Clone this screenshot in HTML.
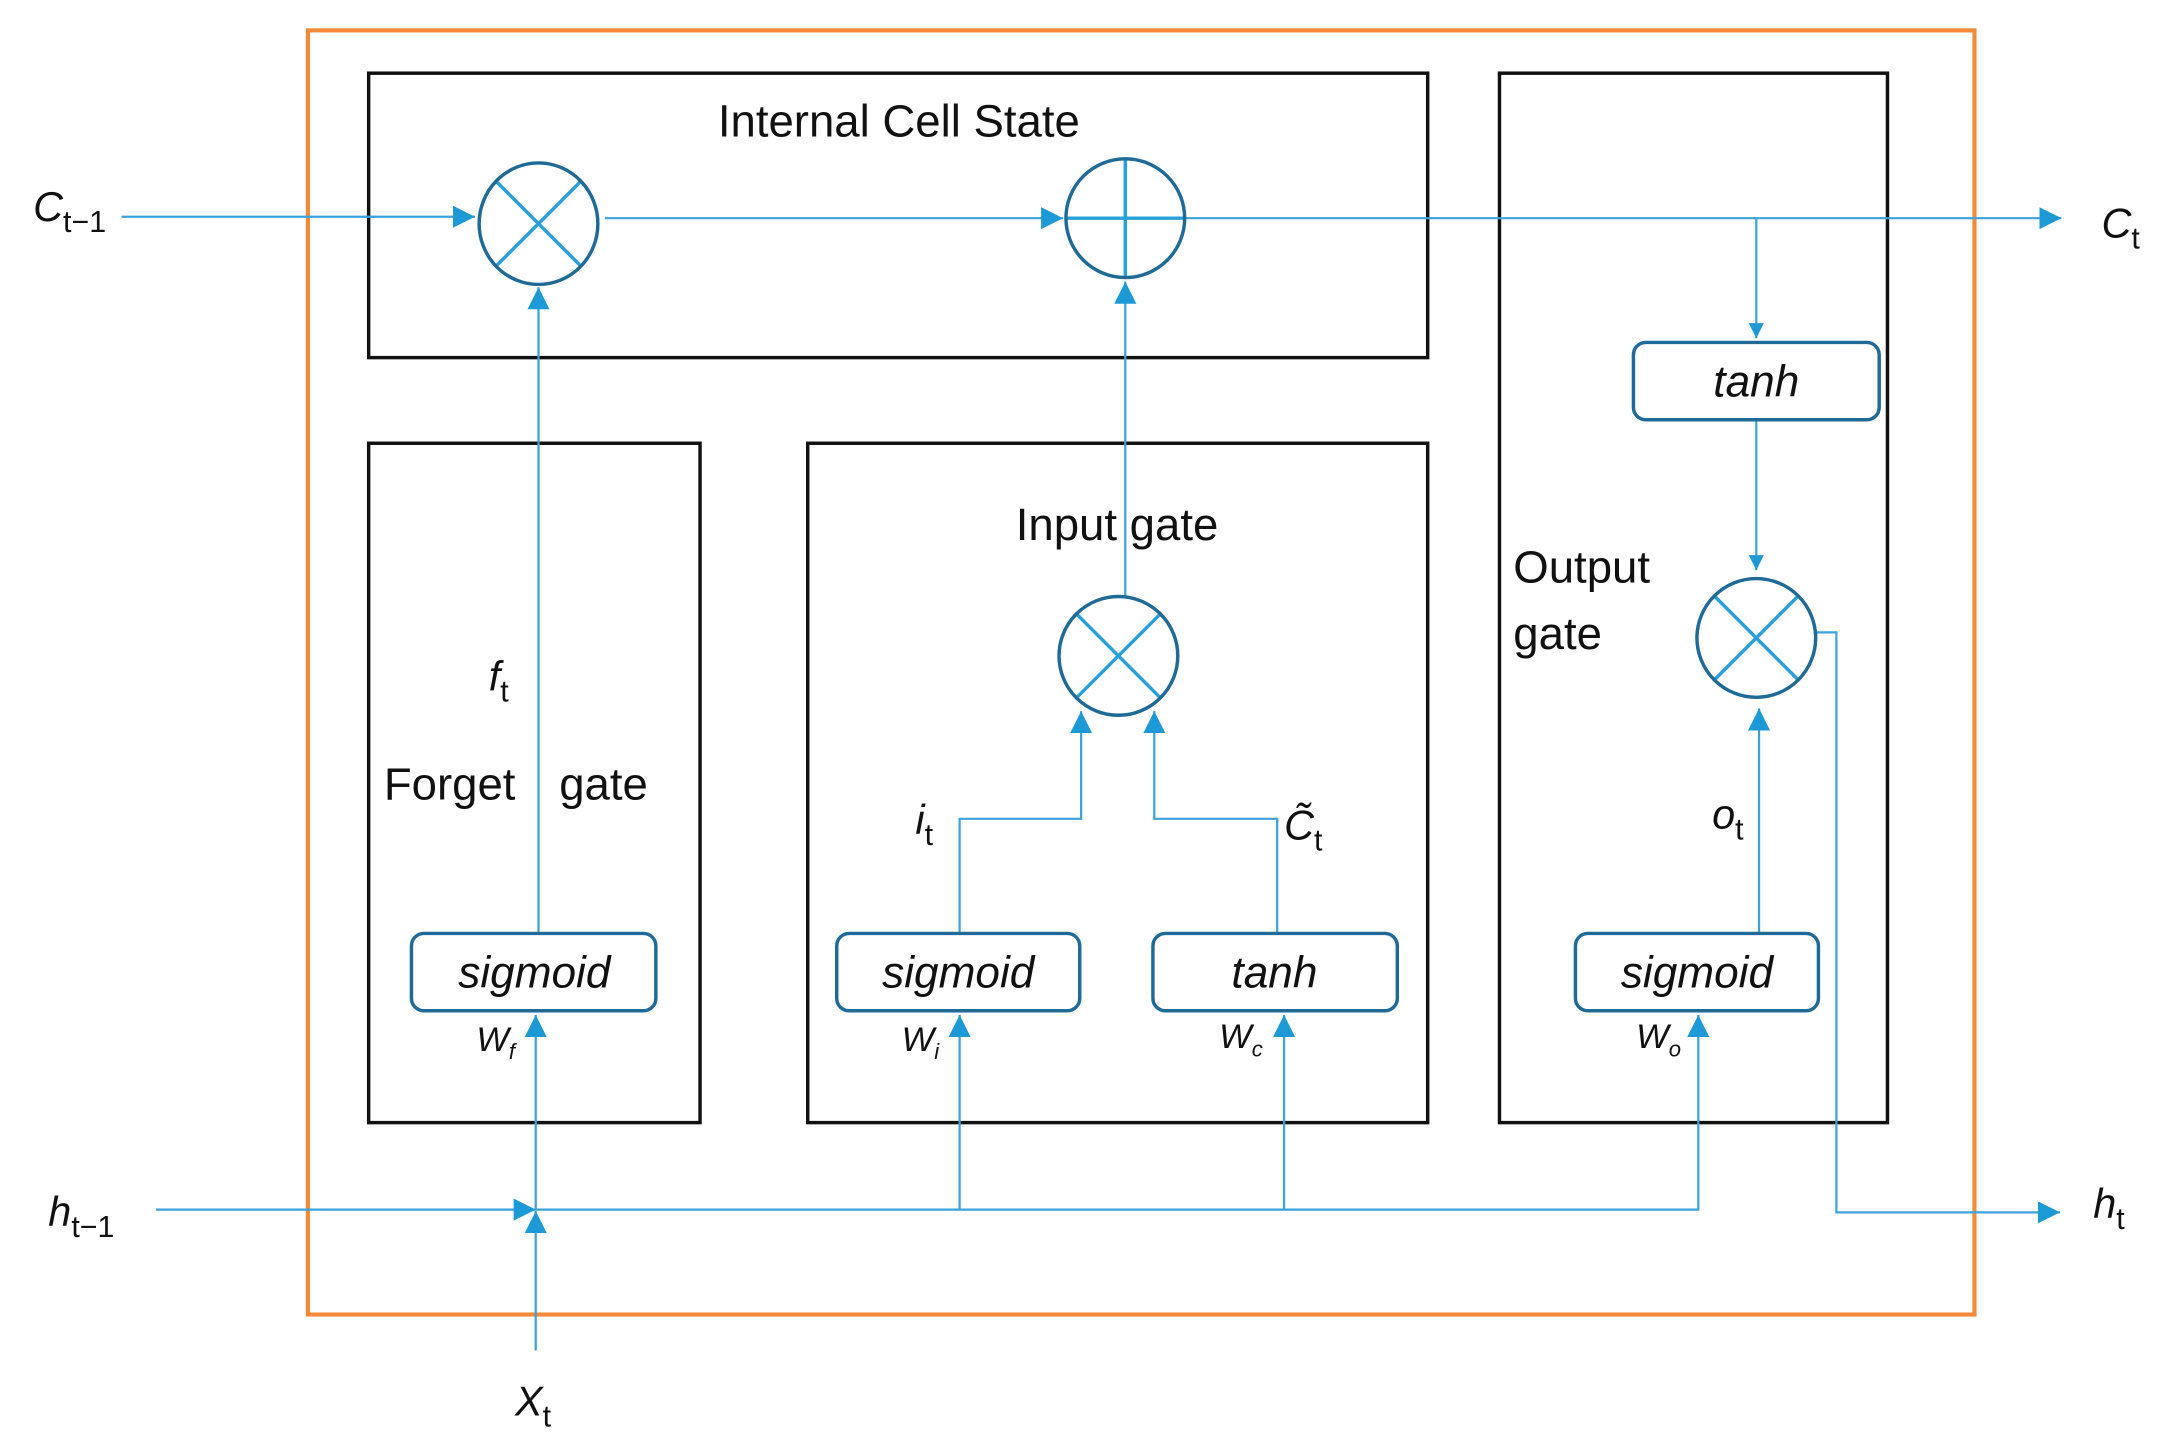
<!DOCTYPE html>
<html><head><meta charset="utf-8"><style>
html,body{margin:0;padding:0;background:#fff;}
svg{display:block;}
text{font-family:"Liberation Sans","DejaVu Sans",sans-serif;fill:#111;}
.it{font-style:italic;}
</style></head><body>
<svg width="2165" height="1454" viewBox="0 0 1568 1053" preserveAspectRatio="none" xmlns="http://www.w3.org/2000/svg">
<defs>
<marker id="a" viewBox="0 0 10 10" refX="10" refY="5" markerWidth="11" markerHeight="11" markerUnits="userSpaceOnUse" orient="auto">
<path d="M0,0 L10,5 L0,10 z" fill="#1d9ad6"/></marker>
<marker id="b" viewBox="0 0 10 10" refX="10" refY="5" markerWidth="16" markerHeight="16" markerUnits="userSpaceOnUse" orient="auto">
<path d="M0,0 L10,5 L0,10 z" fill="#1d9ad6"/></marker>
</defs>
<rect x="223" y="22" width="1207" height="930" fill="none" stroke="#f5893a" stroke-width="3"/>
<g fill="none" stroke="#111" stroke-width="2.5">
<rect x="267" y="53" width="767" height="206"/>
<rect x="267" y="321" width="240" height="492"/>
<rect x="585" y="321" width="449" height="492"/>
<rect x="1086" y="53" width="281" height="760"/>
</g>
<g fill="none" stroke="#3aa3dc" stroke-width="1.6">
<line x1="88" y1="157" x2="344" y2="157" marker-end="url(#b)"/>
<line x1="438" y1="158" x2="770" y2="158" marker-end="url(#b)"/>
<line x1="858" y1="158" x2="1493" y2="158" marker-end="url(#b)"/>
<line x1="1272" y1="158" x2="1272" y2="245" marker-end="url(#a)"/>
<line x1="1272" y1="304" x2="1272" y2="413" marker-end="url(#a)"/>
<polyline points="1316,458 1330,458 1330,878 1492,878" marker-end="url(#b)"/>
<line x1="113" y1="876" x2="388" y2="876" marker-end="url(#b)"/>
<polyline points="388,876 1230,876 1230,735" marker-end="url(#b)"/>
<line x1="695" y1="876" x2="695" y2="735" marker-end="url(#b)"/>
<line x1="930" y1="876" x2="930" y2="735" marker-end="url(#b)"/>
<line x1="388" y1="978" x2="388" y2="877" marker-end="url(#b)"/>
<line x1="388" y1="876" x2="388" y2="735" marker-end="url(#b)"/>
<line x1="390" y1="676" x2="390" y2="208" marker-end="url(#b)"/>
<polyline points="695,676 695,593 783,593 783,515" marker-end="url(#b)"/>
<polyline points="925,676 925,593 836,593 836,515" marker-end="url(#b)"/>
<line x1="815" y1="432" x2="815" y2="204" marker-end="url(#b)"/>
<line x1="1274" y1="676" x2="1274" y2="513" marker-end="url(#b)"/>
</g>
<g stroke="#2a9fd8" stroke-width="2.5" fill="none">
<path d="M360,132 L420,192 M420,132 L360,192"/>
<path d="M815,115 L815,201 M772,158 L858,158"/>
<path d="M780,445 L840,505 M840,445 L780,505"/>
<path d="M1242,432 L1302,492 M1302,432 L1242,492"/>
</g>
<g stroke="#1f6a96" stroke-width="2.5" fill="none">
<ellipse cx="390" cy="162" rx="43" ry="44"/>
<ellipse cx="815" cy="158" rx="43" ry="43"/>
<ellipse cx="810" cy="475" rx="43" ry="43"/>
<ellipse cx="1272" cy="462" rx="43" ry="43"/>
<rect x="298" y="676" width="177" height="56" rx="9" fill="#fff"/>
<rect x="606" y="676" width="176" height="56" rx="9" fill="#fff"/>
<rect x="835" y="676" width="177" height="56" rx="9" fill="#fff"/>
<rect x="1141" y="676" width="176" height="56" rx="9" fill="#fff"/>
<rect x="1183" y="248" width="178" height="56" rx="9" fill="#fff"/>
</g>
<g font-size="33">
<text x="651" y="99" text-anchor="middle">Internal Cell State</text>
<text x="809" y="391" text-anchor="middle">Input gate</text>
<text x="1096" y="422">Output</text>
<text x="1096" y="470">gate</text>
<text x="278" y="579">Forget</text>
<text x="405" y="579">gate</text>
</g>
<g font-size="32" class="it" text-anchor="middle">
<text x="387" y="715" class="it">sigmoid</text>
<text x="694" y="715" class="it">sigmoid</text>
<text x="923" y="715" class="it">tanh</text>
<text x="1229" y="715" class="it">sigmoid</text>
<text x="1272" y="287" class="it">tanh</text>
</g>
<g font-size="30">
<text x="24" y="160" class="it">C<tspan font-size="22" dy="8" font-style="normal">t−1</tspan></text>
<text x="1522" y="172" class="it">C<tspan font-size="22" dy="8" font-style="normal">t</tspan></text>
<text x="35" y="888" class="it">h<tspan font-size="22" dy="8" font-style="normal">t−1</tspan></text>
<text x="1516" y="882" class="it">h<tspan font-size="22" dy="8" font-style="normal">t</tspan></text>
<text x="373" y="1025" class="it">X<tspan font-size="22" dy="8" font-style="normal">t</tspan></text>
<text x="354" y="500" class="it">f<tspan font-size="22" dy="8" font-style="normal">t</tspan></text>
<text x="663" y="604" class="it">i<tspan font-size="22" dy="8" font-style="normal">t</tspan></text>
<text x="930" y="608" class="it">C̃<tspan font-size="22" dy="8" font-style="normal">t</tspan></text>
<text x="1240" y="600" class="it">o<tspan font-size="22" dy="8" font-style="normal">t</tspan></text>
</g>
<g font-size="25" class="it">
<text x="345" y="761" class="it">W<tspan font-size="16" dy="6">f</tspan></text>
<text x="653" y="761" class="it">W<tspan font-size="16" dy="6">i</tspan></text>
<text x="883" y="759" class="it">W<tspan font-size="16" dy="6">c</tspan></text>
<text x="1185" y="759" class="it">W<tspan font-size="16" dy="6">o</tspan></text>
</g>
</svg>
</body></html>
